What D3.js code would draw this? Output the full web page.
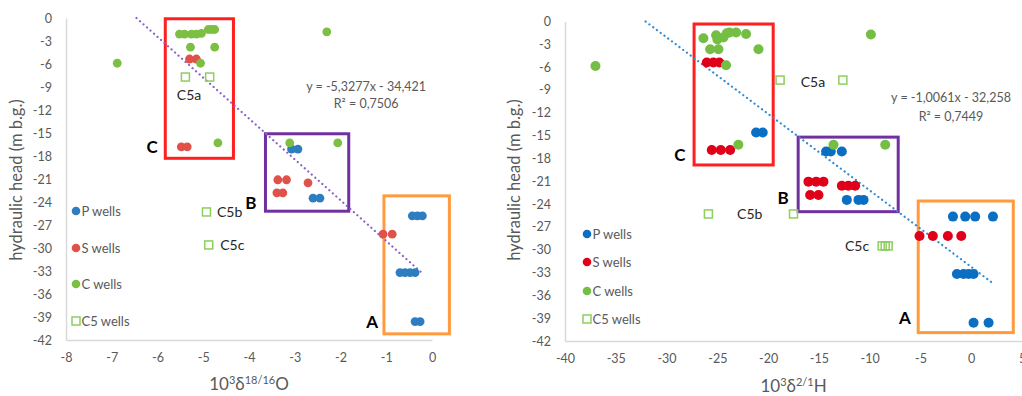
<!DOCTYPE html>
<html>
<head>
<meta charset="utf-8">
<script src="https://cdn.jsdelivr.net/npm/d3@7"></script>
<style>
  html, body { margin: 0; padding: 0; background: #fff; }
  svg { display: block; font-family: Lato, "Open Sans", sans-serif; }
</style>
</head>
<body>
<svg id="chart" width="1022" height="396"></svg>
<script>
// ---- Oxygen isotope panel (δ18/16O) ----
const oxP = [[-3.07,-17.1],[-2.93,-17.1],[-2.6,-23.5],[-2.45,-23.5],
  [-0.43,-25.8],[-0.32,-25.8],[-0.21,-25.8],
  [-0.70,-33.2],[-0.59,-33.2],[-0.48,-33.2],[-0.37,-33.2],
  [-0.37,-39.6],[-0.26,-39.6]];
const oxS = [[-5.3,-5.35],[-5.15,-5.35],[-5.48,-16.8],[-5.35,-16.8],
  [-3.37,-21.1],[-3.18,-21.1],[-3.39,-22.8],[-3.26,-22.8],[-2.71,-21.5],
  [-1.07,-28.2],[-0.87,-28.2]];
const oxC = [[-6.88,-5.9],[-5.52,-2.1],[-5.41,-2.1],[-5.26,-2.1],[-5.15,-2.1],[-5.04,-2.0],
  [-4.89,-1.5],[-4.82,-1.5],[-4.75,-1.5],[-5.28,-3.8],[-4.75,-3.8],[-5.06,-5.9],
  [-4.68,-16.3],[-2.30,-1.8],[-3.11,-16.3],[-2.06,-16.3]];
const oxC5 = [[-5.39,-7.7],[-4.86,-7.7],[-4.93,-25.3],[-4.88,-29.6]];
const oxTicks = [-8,-7,-6,-5,-4,-3,-2,-1,0];
const oxFit = { slope: -5.3277, intercept: -34.421, from: -6.46, to: -0.21 };
const oxEquation = ["y = -5,3277x - 34,421", "R² = 0,7506"];

// ---- Hydrogen isotope panel (δ2/1H) ----
const hP = [[-21.18,-14.6],[-20.53,-14.6],[-14.29,-17.1],[-13.83,-17.1],[-12.74,-17.1],
  [-12.25,-23.45],[-11.1,-23.45],[-10.6,-23.45],
  [-1.8,-25.65],[-0.59,-25.65],[0.39,-25.65],[2.14,-25.65],
  [-1.41,-33.2],[-0.76,-33.2],[-0.26,-33.2],[0.23,-33.2],
  [0.23,-39.6],[1.71,-39.6]];
const hS = [[-26.04,-5.4],[-25.39,-5.4],[-24.8,-5.4],
  [-25.55,-16.9],[-24.66,-16.9],[-23.74,-16.9],
  [-16.03,-21.05],[-15.27,-21.05],[-14.55,-21.05],[-15.86,-22.8],[-15.04,-22.8],
  [-12.74,-21.6],[-12.1,-21.6],[-11.43,-21.6],
  [-5.09,-28.2],[-3.78,-28.2],[-2.3,-28.2],[-0.98,-28.2]];
const hC = [[-37.0,-5.85],[-26.37,-2.2],[-25.12,-1.8],[-24.99,-2.35],[-24.4,-2.1],
  [-24.07,-1.55],[-23.8,-1.45],[-23.15,-1.45],[-22.17,-1.65],
  [-25.71,-3.65],[-24.89,-3.65],[-20.95,-3.65],[-24.14,-5.75],[-22.93,-16.2],
  [-9.88,-1.7],[-13.56,-16.2],[-8.47,-16.2]];
const hC5 = [[-18.82,-7.7],[-12.64,-7.7],[-25.88,-25.3],[-17.5,-25.3],
  [-8.77,-29.5],[-8.47,-29.5],[-8.18,-29.5]];
const hTicks = [-40,-35,-30,-25,-20,-15,-10,-5,0,5];
const hFit = { slope: -1.0061, intercept: -32.258, from: -32.06, to: 2.14 };
const hEquation = ["y = -1,0061x - 32,258", "R² = 0,7449"];

const headTicks = [0,-3,-6,-9,-12,-15,-18,-21,-24,-27,-30,-33,-36,-39,-42];
const legendNames = ["P wells", "S wells", "C wells", "C5 wells"];

// group boxes: [x0, x1, y0, y1, colour]
const oxBoxes = [[-5.83,-4.34,-0.1,-18.3,"#ff1f1f"],[-3.64,-1.82,-15.1,-25.2,"#7030a0"],[-1.05,0.38,-23.2,-41.2,"#ff9a3d"]];
const hBoxes = [[-27.29,-19.5,-0.33,-18.86,"#ff1f1f"],[-17.04,-7.19,-15.2,-25.0,"#7030a0"],[-5.22,4.14,-23.6,-40.9,"#ff9a3d"]];

// group letters and well captions
const oxGroupLabels = [["C",-6.12,-16.8],["B",-3.96,-24.1],["A",-1.31,-39.65]];
const oxWellLabels = [["C5a",-5.31,-10.0,"middle"],["C5b",-4.70,-25.3,"start"],["C5c",-4.63,-29.6,"start"]];
const hGroupLabels = [["C",-28.68,-17.55],["B",-18.53,-23.2],["A",-6.52,-38.98]];
const hWellLabels = [["C5a",-15.58,-7.95,"middle"],["C5b",-23.06,-25.3,"start"],["C5c",-12.43,-29.5,"start"]];

const svg = d3.select("#chart");

function drawPanel(cfg) {
  const g = svg.append("g");
  const x = d3.scaleLinear().domain(cfg.xDomain).range(cfg.xRange);
  const y = d3.scaleLinear().domain([-42, 0]).range(cfg.yRange);

  // axes
  const yAxis = g.append("g")
    .attr("transform", `translate(${cfg.xRange[0]},0)`)
    .call(d3.axisLeft(y).tickValues(headTicks).tickSize(0).tickPadding(14).tickFormat(d => String(d)));
  const xAxis = g.append("g")
    .attr("transform", `translate(0,${cfg.yRange[0]})`)
    .call(d3.axisBottom(x).tickValues(cfg.xTicks).tickSize(0).tickPadding(13).tickFormat(d => String(d)));
  [yAxis, xAxis].forEach(a => {
    a.select(".domain").attr("stroke", "#d9d9d9").attr("stroke-width", 1.5);
    a.selectAll("text").attr("fill", "#595959").attr("font-size", 12.5)
      .attr("font-family", "Lato, 'Open Sans', sans-serif");
  });

  // axis titles
  g.append("text")
    .attr("transform", `translate(${cfg.yTitleX},${cfg.yTitleY}) rotate(-90)`)
    .attr("text-anchor", "middle").attr("fill", "#595959").attr("font-size", 16.5)
    .text("hydraulic head (m b.g.)");
  const xt = g.append("text")
    .attr("x", (cfg.xRange[0] + cfg.xRange[1]) / 2).attr("y", cfg.xTitleY)
    .attr("text-anchor", "middle").attr("fill", "#595959").attr("font-size", 17);
  xt.append("tspan").text("10");
  xt.append("tspan").attr("font-size", 11).attr("dy", -6).text("3");
  xt.append("tspan").attr("dy", 6).text("δ");
  xt.append("tspan").attr("font-size", 11).attr("dy", -6).text(cfg.ratio);
  xt.append("tspan").attr("dy", 6).text(cfg.element);

  // group boxes
  g.selectAll("rect.box").data(cfg.boxes).join("rect")
    .attr("x", d => x(d[0])).attr("y", d => y(d[2]))
    .attr("width", d => x(d[1]) - x(d[0])).attr("height", d => y(d[3]) - y(d[2]))
    .attr("fill", "none").attr("stroke", d => d[4]).attr("stroke-width", 3);

  // trend line
  const f = cfg.fit;
  g.append("line")
    .attr("x1", x(f.from)).attr("y1", y(f.slope * f.from + f.intercept))
    .attr("x2", x(f.to)).attr("y2", y(f.slope * f.to + f.intercept))
    .attr("stroke", cfg.fitColor).attr("stroke-width", 2.2)
    .attr("stroke-linecap", "round").attr("stroke-dasharray", "0.1,4.6");

  // wells
  const r = cfg.radius;
  const series = [[cfg.P, cfg.colors[0]], [cfg.S, cfg.colors[1]], [cfg.C, cfg.colors[2]]];
  series.forEach(([pts, col]) => {
    g.append("g").selectAll("circle").data(pts).join("circle")
      .attr("cx", d => x(d[0])).attr("cy", d => y(d[1])).attr("r", r).attr("fill", col);
  });
  g.append("g").selectAll("rect").data(cfg.C5).join("rect")
    .attr("x", d => x(d[0]) - 4).attr("y", d => y(d[1]) - 4)
    .attr("width", 8).attr("height", 8)
    .attr("fill", "none").attr("stroke", "#8ccf5c").attr("stroke-width", 1.5);

  // labels
  g.selectAll("text.grp").data(cfg.groupLabels).join("text")
    .attr("x", d => x(d[1])).attr("y", d => y(d[2])).attr("dy", "0.36em")
    .attr("text-anchor", "middle").attr("font-weight", "bold").attr("font-size", 17)
    .attr("fill", "#000").text(d => d[0]);
  g.selectAll("text.well").data(cfg.wellLabels).join("text")
    .attr("x", d => x(d[1])).attr("y", d => y(d[2])).attr("dy", "0.36em")
    .attr("text-anchor", d => d[3]).attr("font-size", 14)
    .attr("fill", "#262626").text(d => d[0]);

  // regression equation
  g.selectAll("text.eq").data(cfg.equation).join("text")
    .attr("x", x(cfg.eqPos[0])).attr("y", (d, i) => y(cfg.eqPos[1]) + i * cfg.eqGap)
    .attr("dy", "0.36em").attr("text-anchor", "middle").attr("font-size", 12.5)
    .attr("fill", "#595959").text(d => d);

  // legend
  const leg = g.append("g");
  legendNames.forEach((name, i) => {
    const ly = cfg.legendY[i];
    if (i < 3) {
      leg.append("circle").attr("cx", cfg.legendX).attr("cy", ly).attr("r", 4.3).attr("fill", cfg.colors[i]);
    } else {
      leg.append("rect").attr("x", cfg.legendX - 4).attr("y", ly - 4).attr("width", 8).attr("height", 8)
        .attr("fill", "none").attr("stroke", "#8ccf5c").attr("stroke-width", 1.5);
    }
    leg.append("text").attr("x", cfg.legendX + 5.5).attr("y", ly).attr("dy", "0.36em")
      .attr("font-size", 13).attr("fill", "#595959").text(name);
  });
}

drawPanel({
  xDomain: [-8, 0], xRange: [66, 432], yRange: [340, 18], xTicks: oxTicks,
  yTitleX: 22, yTitleY: 180, xTitleY: 390, ratio: "18/16", element: "O",
  P: oxP, S: oxS, C: oxC, C5: oxC5, radius: 4.4,
  colors: ["#2e7dc0", "#e0514a", "#7cbf43"],
  fit: oxFit, fitColor: "#8b61c9", boxes: oxBoxes,
  groupLabels: oxGroupLabels, wellLabels: oxWellLabels,
  equation: oxEquation, eqPos: [-1.44, -8.87], eqGap: 17,
  legendX: 76, legendY: [211, 248, 284, 321]
});

drawPanel({
  xDomain: [-40, 5], xRange: [565, 1022], yRange: [341, 21.5], xTicks: hTicks,
  yTitleX: 520, yTitleY: 180, xTitleY: 392, ratio: "2/1", element: "H",
  P: hP, S: hS, C: hC, C5: hC5, radius: 5,
  colors: ["#0a6ec2", "#e0001a", "#74bf43"],
  fit: hFit, fitColor: "#2f8bd6", boxes: hBoxes,
  groupLabels: hGroupLabels, wellLabels: hWellLabels,
  equation: hEquation, eqPos: [-1.99, -10.05], eqGap: 19,
  legendX: 587, legendY: [234, 262, 291, 319]
});
</script>
</body>
</html>
